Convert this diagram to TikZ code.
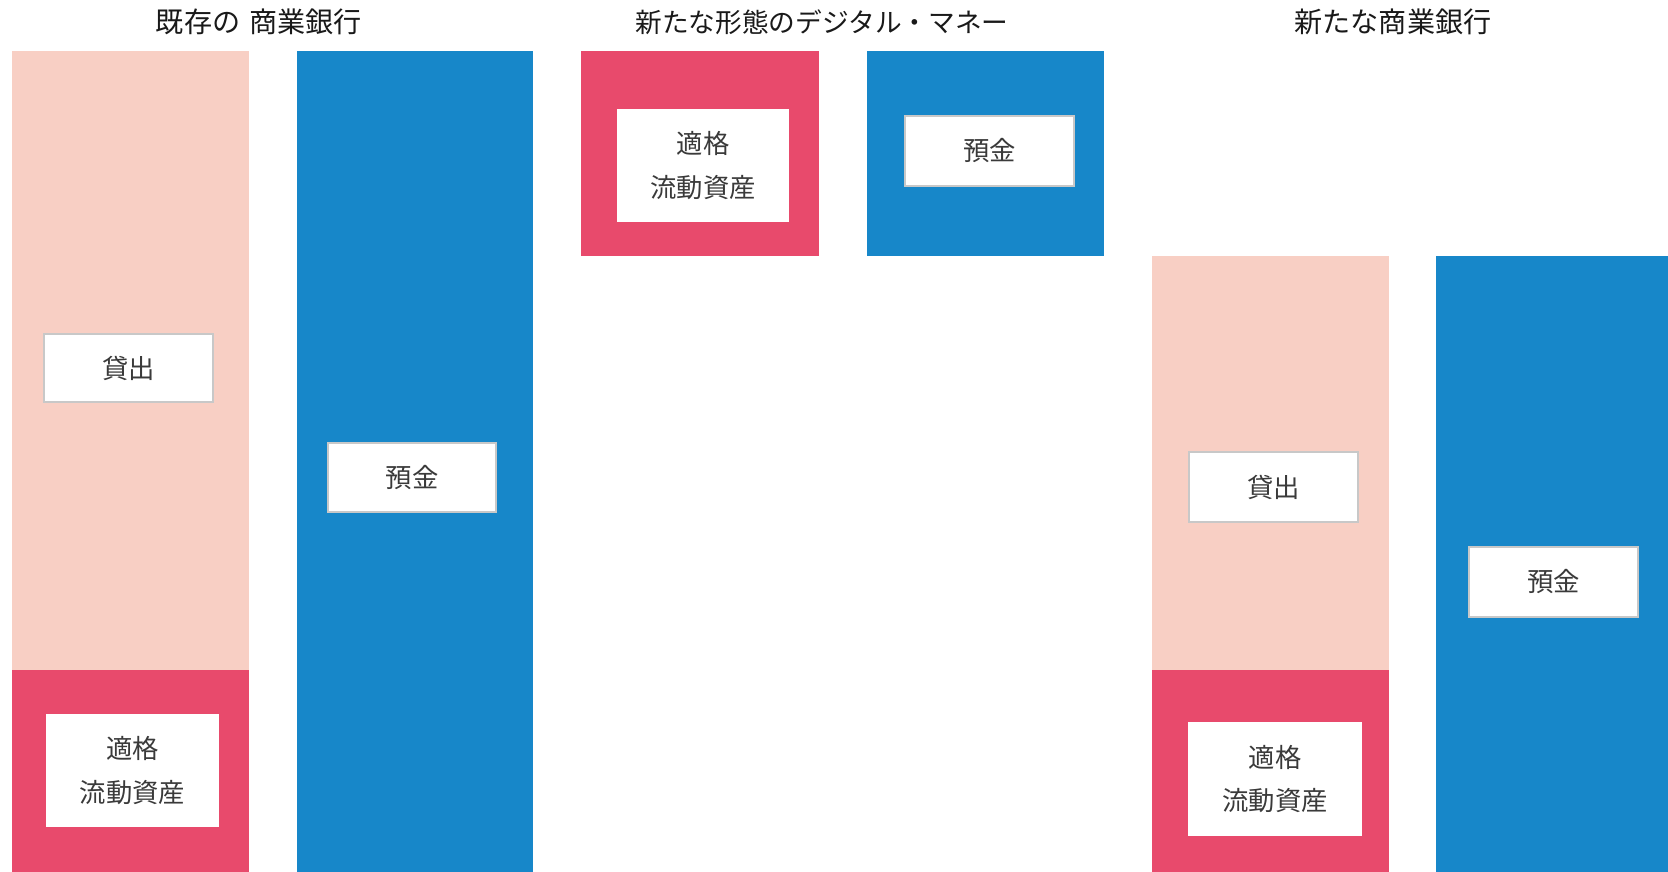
\documentclass[tikz,border=0pt]{standalone}
\usepackage{fontspec}
\newfontfamily\jp{Noto Sans CJK JP}
\definecolor{pinkc}{HTML}{F8CFC4}
\definecolor{redc}{HTML}{E84A6C}
\definecolor{bluec}{HTML}{1787C9}
\definecolor{edgec}{HTML}{C8C8C8}
\definecolor{txtc}{HTML}{3A3A3A}
\tikzset{
  blk/.style={inner sep=0pt, outer sep=0pt, draw=none},
  lbl/.style={inner sep=0pt, outer sep=0pt, fill=white, draw=edgec, line width=0.8pt,
     font=\jp\fontsize{15}{25}\selectfont, text=txtc, align=center},
  lbl2/.style={lbl, draw=none},
  ttl/.style={inner sep=0pt, font=\jp\fontsize{16}{18}\selectfont, text=black!90}
}
\begin{document}
\begin{tikzpicture}[x=0.02cm, y=-0.02cm]
\useasboundingbox (0,0) rectangle (1668,872);
% titles
\node[ttl] (t1) at (259,22) {既存の\,\,商業銀行};
\node[ttl, font=\jp\fontsize{15.2}{18}\selectfont] (t2) at (822,22) {新たな形態のデジタル・マネー};
\node[ttl] (t3) at (1393,22) {新たな商業銀行};
% existing bank
\node[blk, fill=pinkc, minimum width=237*0.02cm, minimum height=619*0.02cm] (pink1) at (130.5,360.5) {};
\node[blk, fill=redc, minimum width=237*0.02cm, minimum height=202*0.02cm] (red1) at (130.5,771) {};
\node[blk, fill=bluec, minimum width=236*0.02cm, minimum height=821*0.02cm] (blue1) at (415,461.5) {};
\node[lbl, minimum width=169*0.02cm, minimum height=68*0.02cm] (loan1) at (128.5,368) {貸出};
\node[lbl, minimum width=168*0.02cm, minimum height=69*0.02cm] (dep1) at (412,477.5) {預金};
\node[lbl2, minimum width=173*0.02cm, minimum height=113*0.02cm] (hqla1) at (132.5,770.5) {適格\\流動資産};
% digital money
\node[blk, fill=redc, minimum width=238*0.02cm, minimum height=205*0.02cm] (red2) at (700,153.5) {};
\node[lbl2, minimum width=172*0.02cm, minimum height=113*0.02cm] (hqla2) at (703,165.5) {適格\\流動資産};
\node[blk, fill=bluec, minimum width=237*0.02cm, minimum height=205*0.02cm] (blue2) at (985.5,153.5) {};
\node[lbl, minimum width=169*0.02cm, minimum height=70*0.02cm] (dep2) at (989.5,151) {預金};
% new bank
\node[blk, fill=pinkc, minimum width=237*0.02cm, minimum height=414*0.02cm] (pink3) at (1270.5,463) {};
\node[blk, fill=redc, minimum width=237*0.02cm, minimum height=202*0.02cm] (red3) at (1270.5,771) {};
\node[blk, fill=bluec, minimum width=232*0.02cm, minimum height=616*0.02cm] (blue3) at (1552,564) {};
\node[lbl, minimum width=169*0.02cm, minimum height=70*0.02cm] (loan3) at (1273.5,487) {貸出};
\node[lbl2, minimum width=174*0.02cm, minimum height=114*0.02cm] (hqla3) at (1275,779) {適格\\流動資産};
\node[lbl, minimum width=169*0.02cm, minimum height=70*0.02cm] (dep3) at (1553.5,582) {預金};
\end{tikzpicture}
\end{document}
